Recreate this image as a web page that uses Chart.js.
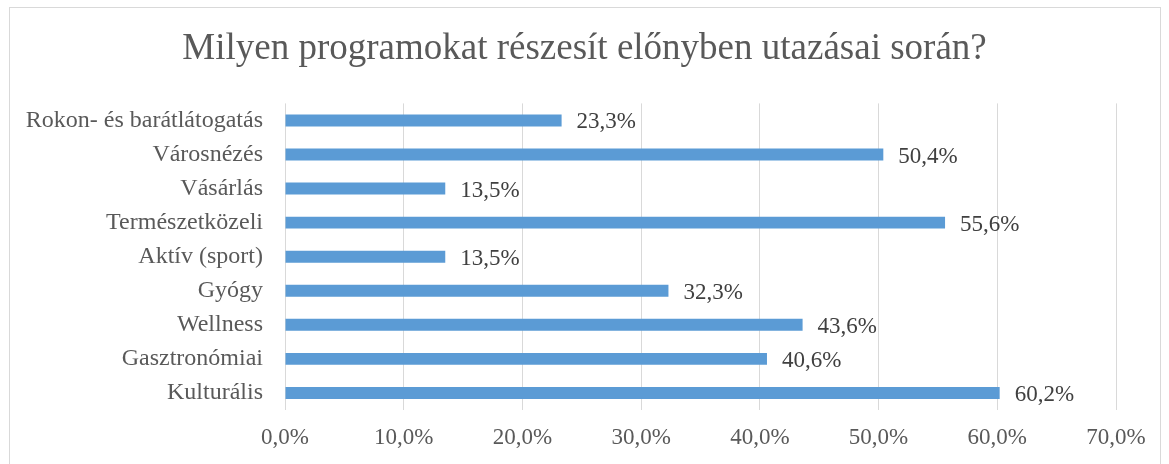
<!DOCTYPE html>
<html>
<head>
<meta charset="utf-8">
<script src="https://cdn.jsdelivr.net/npm/chart.js@4"></script>
<style>
	html, body { margin: 0; padding: 0; background: #fff; }
	#wrap { position: relative; width: 1169px; height: 464px; }
	#frame { position: absolute; left: 9px; top: 7px; width: 1150px; height: 470px; border: 1px solid #d9d9d9; pointer-events: none; }
</style>
</head>
<body>
<div id="wrap">
	<canvas id="chart" width="1169" height="464"></canvas>
	<div id="frame"></div>
</div>
<script>
const categories = ["Rokon- és barátlátogatás", "Városnézés", "Vásárlás", "Természetközeli", "Aktív (sport)", "Gyógy", "Wellness", "Gasztronómiai", "Kulturális"];
const shares = [23.3, 50.4, 13.5, 55.6, 13.5, 32.3, 43.6, 40.6, 60.2];
const titleText = "Milyen programokat részesít előnyben utazásai során?";

const serif = "'Liberation Serif', 'Times New Roman', serif";
const fmt = v => v.toFixed(1).replace(".", ",") + "%";

// labels at the end of each bar
const barLabels = {
	id: "barLabels",
	afterLayout(chart) {
		// center the title on the whole canvas, not just the padded area
		const t = chart.titleBlock;
		if (t) { t.left = 0; t.right = chart.width; t.width = chart.width; }
	},
	afterDatasetsDraw(chart) {
		const ctx = chart.ctx;
		const meta = chart.getDatasetMeta(0);
		ctx.save();
		ctx.font = "23px " + serif;
		ctx.fillStyle = "#404040";
		ctx.textBaseline = "middle";
		ctx.textAlign = "left";
		meta.data.forEach((bar, i) => {
			ctx.fillText(fmt(shares[i]), bar.x + 15, bar.y + 2);
		});
		ctx.restore();
	}
};

new Chart(document.getElementById("chart"), {
	type: "bar",
	data: {
		labels: categories,
		datasets: [{
			data: shares,
			backgroundColor: "#5b9bd5",
			barPercentage: 0.7,
			categoryPercentage: 0.5
		}]
	},
	options: {
		indexAxis: "y",
		responsive: false,
		animation: false,
		layout: { padding: { left: 0, right: 53, top: 0, bottom: 0 } },
		scales: {
			x: {
				min: 0,
				max: 70,
				grid: { color: "#d9d9d9", drawTicks: false },
				border: { display: false },
				ticks: {
					stepSize: 10,
					padding: 14,
					color: "#595959",
					font: { family: serif, size: 23 },
					callback: v => fmt(v)
				},
				afterFit(scale) { scale.height = 54; }
			},
			y: {
				grid: { display: false, drawTicks: false },
				border: { display: false },
				ticks: {
					padding: 22,
					color: "#595959",
					font: { family: serif, size: 24 }
				},
				afterFit(scale) { scale.width = 285; }
			}
		},
		plugins: {
			legend: { display: false },
			tooltip: { enabled: false },
			title: {
				display: true,
				text: titleText,
				color: "#595959",
				font: { family: serif, size: 37, weight: "normal" },
				padding: { top: 27, bottom: 32 }
			}
		}
	},
	plugins: [barLabels]
});
</script>
</body>
</html>
